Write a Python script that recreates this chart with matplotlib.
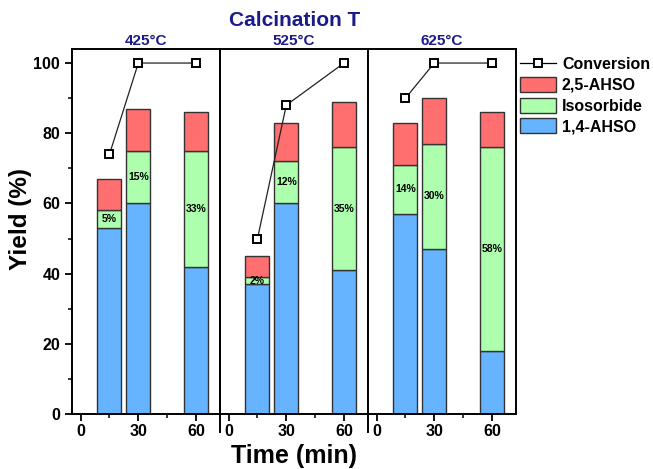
import matplotlib
matplotlib.use('Agg')
import matplotlib.pyplot as plt
from matplotlib.lines import Line2D
from matplotlib.patches import Patch
import numpy as np

plt.rcParams['font.family'] = ['Liberation Sans', 'DejaVu Sans']
plt.rcParams['font.weight'] = 'bold'

# data
temps = ['425°C', '525°C', '625°C']
times = [15, 30, 60]
ahso14 = [[53, 60, 42], [37, 60, 41], [57, 47, 18]]
isosorbide = [[5, 15, 33], [2, 12, 35], [14, 30, 58]]
ahso25 = [[9, 12, 11], [6, 11, 13], [12, 13, 10]]
conversion = [[74, 100, 100], [50, 88, 100], [90, 100, 100]]

c_red = '#ff6f6f'
c_green = '#adffad'
c_blue = '#66b3ff'
c_edge = '#333333'
navy = '#1a1a8a'

fig = plt.figure(figsize=(6.53, 4.69), dpi=100)
left, bottom, w, h = 72/653, 1 - 414/469, 148/653, 365/469
axes = []
for i in range(3):
    ax = fig.add_axes([left + i*w, bottom, w, h])
    axes.append(ax)
    t = np.array(times)
    b1 = np.array(ahso14[i])
    b2 = np.array(isosorbide[i])
    b3 = np.array(ahso25[i])
    ax.bar(t, b1, width=12.5, color=c_blue, edgecolor=c_edge, linewidth=1, zorder=2)
    ax.bar(t, b2, width=12.5, bottom=b1, color=c_green, edgecolor=c_edge, linewidth=1, zorder=2)
    ax.bar(t, b3, width=12.5, bottom=b1 + b2, color=c_red, edgecolor=c_edge, linewidth=1, zorder=2)
    for x, lo, v in zip(t, b1, b2):
        ax.text(x, lo + v/2, '%d%%' % v, ha='center', va='center', fontsize=7.5,
                fontweight='bold', zorder=4)
    ax.plot(t, conversion[i], color='#222222', lw=0.9, marker='s', ms=5.5,
            mfc='white', mec='black', mew=1.4, zorder=5, clip_on=False)
    ax.set_xlim(-4.5, 72.5)
    ax.set_ylim(0, 104)
    ax.set_xticks([0, 30, 60])
    ax.set_xticks([15, 45], minor=True)
    ax.tick_params(axis='x', which='major', direction='out', length=5, width=1.3,
                   labelsize=11.5, pad=2)
    ax.tick_params(axis='x', which='minor', direction='out', length=3, width=1.1)
    for s in ax.spines.values():
        s.set_linewidth(1.4)
    ax.set_title(temps[i], color=navy, fontsize=11, fontweight='bold', pad=3)
    if i == 0:
        ax.set_yticks([0, 20, 40, 60, 80, 100])
        ax.set_yticks([10, 30, 50, 70, 90], minor=True)
        ax.tick_params(axis='y', which='major', direction='out', length=5, width=1.3,
                       labelsize=11.5)
        ax.tick_params(axis='y', which='minor', direction='out', length=3, width=1.1)
    else:
        ax.set_yticks([])
        ax.plot([0, 0], [0, -0.05], transform=ax.transAxes, color='black',
                lw=1.4, clip_on=False)
    for lab in ax.get_xticklabels() + ax.get_yticklabels():
        lab.set_fontweight('bold')

fig.text(295/653, 1 - 20/469, 'Calcination T', ha='center', va='center',
         color=navy, fontsize=15, fontweight='bold')
fig.text(294/653, 1 - 456/469, 'Time (min)', ha='center', va='center',
         fontsize=18, fontweight='bold')
fig.text(21/653, 1 - 219/469, 'Yield (%)', ha='center', va='center',
         rotation=90, fontsize=17.5, fontweight='bold')

handles = [Line2D([], [], color='black', lw=0.9, marker='s', ms=5.5, mfc='white',
                  mec='black', mew=1.4),
           Patch(facecolor=c_red, edgecolor=c_edge),
           Patch(facecolor=c_green, edgecolor=c_edge),
           Patch(facecolor=c_blue, edgecolor=c_edge)]
labels = ['Conversion', '2,5-AHSO', 'Isosorbide', '1,4-AHSO']
leg = fig.legend(handles, labels, loc='upper left', bbox_to_anchor=(514/653, 1 - 50/469),
                 frameon=False, fontsize=11.5, handlelength=2.2, handleheight=1.05,
                 handletextpad=0.4, labelspacing=0.3, borderaxespad=0)
for t in leg.get_texts():
    t.set_fontweight('bold')

fig.savefig('out.png', dpi=100)
